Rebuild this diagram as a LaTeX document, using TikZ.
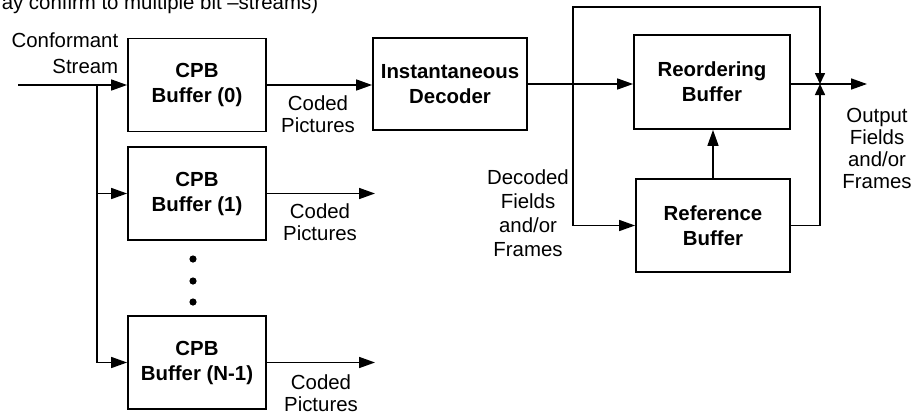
\documentclass[tikz,border=0pt]{standalone}
\usepackage{fontspec}
\setmainfont{Liberation Sans}
\usetikzlibrary{arrows.meta,positioning}

\tikzset{
  buf/.style={draw, line width=0.9pt, minimum width=69pt, minimum height=46.5pt,
    align=center, font=\bfseries\fontsize{10.2}{12.5}\selectfont},
  lbl/.style={align=center, inner sep=0pt, font=\fontsize{10.2}{11}\selectfont},
  smalltip/.style={-{Triangle[length=5.5pt,width=5pt]}}
}

\begin{document}
\begin{tikzpicture}[x=0.5pt,y=-0.5pt,line width=0.8pt,
    >={Triangle[length=8pt,width=5.5pt]}]
  \useasboundingbox (0,0) rectangle (911,413);

  % caption cut off by the page
  \node[lbl, anchor=base west] (cap) at (1,9) {ay confirm to multiple bit –streams)};

  % buffers
  \node[buf] (cpb0) at (197,85)    {CPB\\Buffer (0)};
  \node[buf] (cpb1) at (197,193.5) {CPB\\Buffer (1)};
  \node[buf] (cpbn) at (197,362.5) {CPB\\Buffer (N-1)};
  \node[buf, minimum width=77pt, minimum height=46pt] (dec) at (450,84) {Instantaneous\\Decoder};
  \node[buf, minimum width=78pt, minimum height=47pt] (reord) at (712,82) {Reordering\\Buffer};
  \node[buf, minimum width=77pt] (refbuf) at (713,225.5) {Reference\\Buffer};

  \foreach \y in {259,281,302}
    \fill (193,\y) circle (1.8pt);

  \coordinate (src)   at (18,85);
  \coordinate (fork)  at (97,85);
  \coordinate (out1)  at (375,193.5);
  \coordinate (outn)  at (375,362.5);
  \coordinate (tap)   at (573,84);
  \coordinate (loopl) at (573,7);
  \coordinate (loopr) at (820,7);
  \coordinate (join)  at (820,84);
  \coordinate (outp)  at (867,84);

  % input side
  \draw[->] (src) -- (cpb0.west);
  \draw[->] (fork) |- (cpb1.west);
  \draw[->] (fork) |- (cpbn.west);
  \draw[->] (cpb0.east) -- (dec.west |- cpb0.east);
  \draw[->] (cpb1.east) -- (out1);
  \draw[->] (cpbn.east) -- (outn);

  % output side
  \draw (dec.east) -- (tap);
  \draw[->] (tap) -- (reord.west |- tap);
  \draw[->] (tap) |- (refbuf.west);
  \draw[smalltip] (tap) -- (loopl) -- (loopr) -- (join);
  \draw[->] (refbuf.north) -- (refbuf.north |- reord.south);
  \draw[smalltip] (refbuf.east) -| (join);
  \draw[->] (reord.east |- join) -- (outp);

  % labels
  \node[lbl, align=right, anchor=east, font=\fontsize{10.2}{13}\selectfont] (conf) at (119,53.5) {Conformant\\Stream};
  \node[lbl] (coded0) at (318,114)   {Coded\\Pictures};
  \node[lbl] (coded1) at (320,222.5) {Coded\\Pictures};
  \node[lbl] (codedn) at (321,393)   {Coded\\Pictures};
  \node[lbl, font=\fontsize{10.2}{12}\selectfont] (decoded) at (528,213.5) {Decoded\\Fields\\and/or\\Frames};
  \node[lbl] (outlbl) at (877,148.5) {Output\\Fields\\and/or\\Frames};
\end{tikzpicture}
\end{document}
